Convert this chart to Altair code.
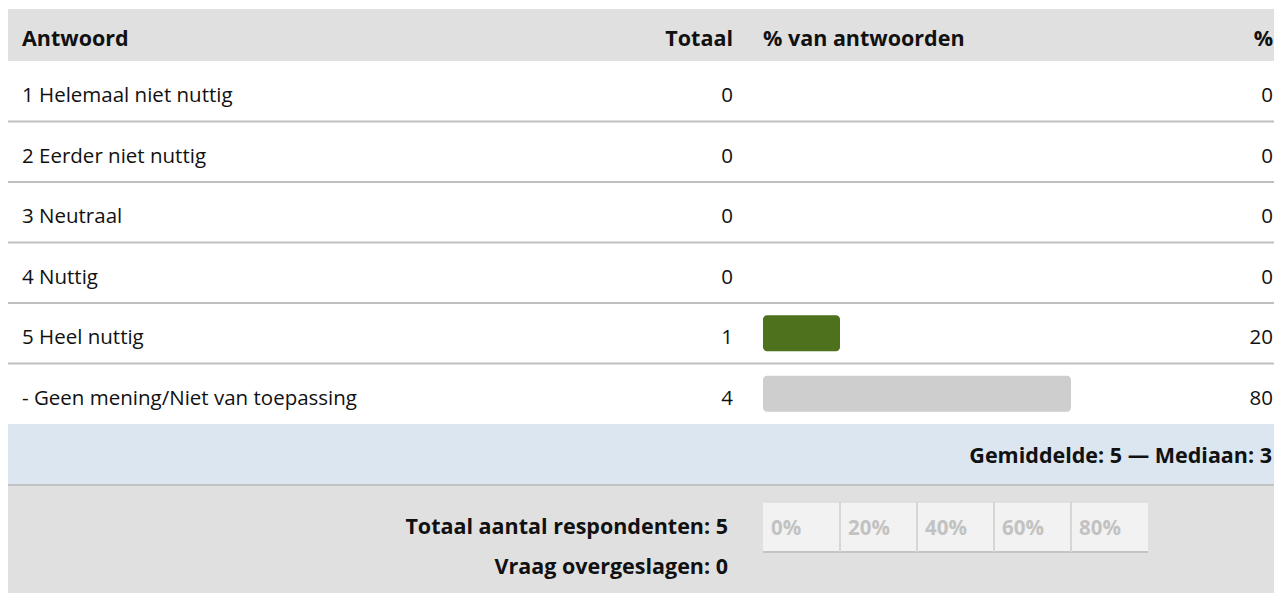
import altair as alt
import pandas as pd

# ---- data ----
antwoorden = [
    "1 Helemaal niet nuttig",
    "2 Eerder niet nuttig",
    "3 Neutraal",
    "4 Nuttig",
    "5 Heel nuttig",
    "- Geen mening/Niet van toepassing",
]
totalen = [0, 0, 0, 0, 1, 4]
percentages = [0, 0, 0, 0, 20, 80]
kolomkoppen = ["Antwoord", "Totaal", "% van antwoorden", "%"]
as_waarden = [0, 20, 40, 60, 80]
as_labels = ["0%", "20%", "40%", "60%", "80%"]
as_bereik = [0, 100]
gemiddelde = 5
mediaan = 3
respondenten = 5
overgeslagen = 0

# ---- styles ----
FONT = "Open Sans"
FS = 20.5
FSB = 21.5
W, H = 1266, 585
GREEN = "#4e711e"
GREY_BAR = "#cecece"
bar_colors = [GREEN, GREEN, GREEN, GREEN, GREEN, GREY_BAR]

df = pd.DataFrame({"antwoord": antwoorden, "totaal": totalen, "pct": percentages})
df["start"] = 0
df_sep = df.iloc[:-1]
df_ax = pd.DataFrame({"v": as_waarden, "label": as_labels})
df_rng = pd.DataFrame({"lo": [as_bereik[0]], "hi": [as_bereik[1]]})
df_one = pd.DataFrame({"a": [0]})

yscale = alt.Scale(type="band", domain=antwoorden, range=[53, 416], paddingInner=0, paddingOuter=0)
xscale = alt.Scale(domain=[0, 100], range=[755, 1140], nice=False, zero=False)
Yrow = alt.Y("antwoord:N", scale=yscale, axis=None, bandPosition=0.5)

base_one = alt.Chart(df_one)

def band(y1, y2, color):
    return base_one.mark_rect(color=color).encode(
        x=alt.value(0), x2=alt.value(W), y=alt.value(y1), y2=alt.value(y2))

def label(text, x, y, align="left", bold=True, color="#111111", size=FSB):
    return base_one.mark_text(
        text=text, align=align, baseline="middle", font=FONT, fontSize=size,
        fontWeight="bold" if bold else "normal", color=color,
    ).encode(x=alt.value(x), y=alt.value(y))

header_bg = band(1, 53, "#e0e0e0")
blue_bg = band(416, 477, "#dce6f1")
bottom_bg = band(477, H, "#e0e0e0")
bottom_line = base_one.mark_rule(color="#b8b8b8", strokeWidth=1.5).encode(
    x=alt.value(0), x2=alt.value(W), y=alt.value(477))

seps = alt.Chart(df_sep).mark_rule(color="#c0c0c0", strokeWidth=2).encode(
    x=alt.value(0), x2=alt.value(W),
    y=alt.Y("antwoord:N", scale=yscale, axis=None, bandPosition=1))

h1 = label(kolomkoppen[0], 14, 32)
h2 = label(kolomkoppen[1], 725, 32, align="right")
h3 = label(kolomkoppen[2], 755, 32)
h4 = label(kolomkoppen[3], 1265, 32, align="right")

txt_kw = dict(baseline="middle", font=FONT, fontSize=FS, color="#111111", dy=5)
cat_txt = alt.Chart(df).mark_text(align="left", **txt_kw).encode(
    x=alt.value(14), y=Yrow, text="antwoord:N")
tot_txt = alt.Chart(df).mark_text(align="right", **txt_kw).encode(
    x=alt.value(725), y=Yrow, text="totaal:Q")
pct_txt = alt.Chart(df).mark_text(align="right", **txt_kw).encode(
    x=alt.value(1265), y=Yrow, text="pct:Q")

bars = alt.Chart(df).mark_bar(height=36, cornerRadius=4).encode(
    x=alt.X("start:Q", scale=xscale, axis=None),
    x2="pct:Q",
    y=Yrow,
    color=alt.Color("antwoord:N", scale=alt.Scale(domain=antwoorden, range=bar_colors), legend=None),
)

stat_txt = label(f"Gemiddelde: {gemiddelde} \u2014 Mediaan: {mediaan}", 1264, 449, align="right")
resp_txt = label(f"Totaal aantal respondenten: {respondenten}", 720, 520, align="right")
skip_txt = label(f"Vraag overgeslagen: {overgeslagen}", 720, 560, align="right")

# axis box
rng = alt.Chart(df_rng)
ax_box = rng.mark_rect(color="#f2f2f2").encode(
    x=alt.X("lo:Q", scale=xscale, axis=None), x2="hi:Q", y=alt.value(494), y2=alt.value(544))
ax_top = rng.mark_rule(color="#d6d6d6", strokeWidth=1).encode(
    x=alt.X("lo:Q", scale=xscale, axis=None), x2="hi:Q", y=alt.value(494))
ax_bot = rng.mark_rule(color="#c4c4c4", strokeWidth=2).encode(
    x=alt.X("lo:Q", scale=xscale, axis=None), x2="hi:Q", y=alt.value(544))
ax_div = alt.Chart(df_ax).transform_filter("datum.v > 0").mark_rule(color="#d6d6d6", strokeWidth=2).encode(
    x=alt.X("v:Q", scale=xscale, axis=None), y=alt.value(494), y2=alt.value(544))
ax_lbl = alt.Chart(df_ax).mark_text(
    align="left", baseline="middle", font=FONT, fontSize=20.5, fontWeight="bold", color="#c2c2c2", dx=8
).encode(x=alt.X("v:Q", scale=xscale, axis=None), y=alt.value(521), text="label:N")

chart = alt.layer(
    header_bg, blue_bg, bottom_bg, bottom_line, seps,
    h1, h2, h3, h4, cat_txt, tot_txt, pct_txt, bars,
    stat_txt, resp_txt, skip_txt,
    ax_box, ax_top, ax_bot, ax_div, ax_lbl,
).properties(
    width=W, height=H, padding=0, autosize=alt.AutoSizeParams(type="none"),
    background="#ffffff",
).configure_view(stroke=None)

chart.save("out.html", embed_options={"renderer": "svg", "actions": False})
